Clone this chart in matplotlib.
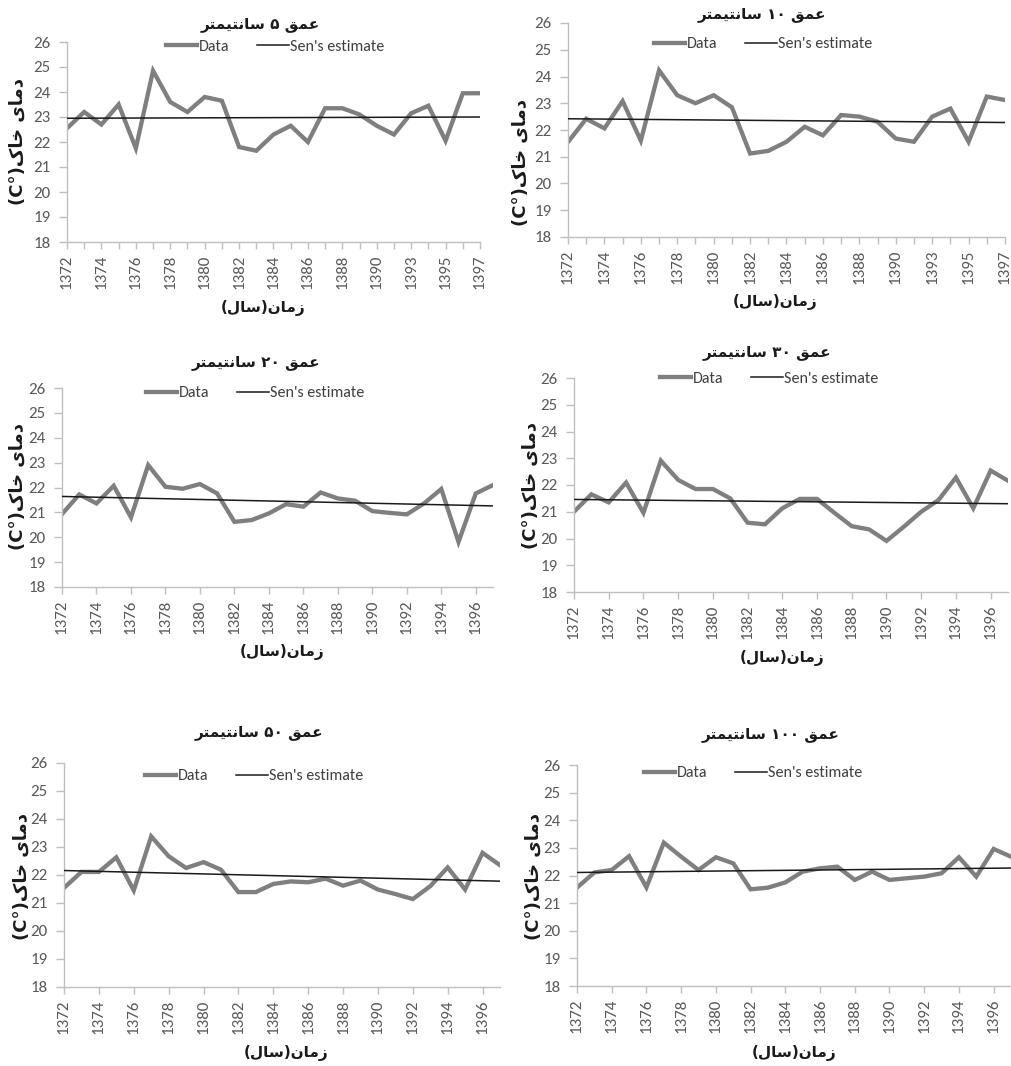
import matplotlib
matplotlib.use("Agg")
import matplotlib.pyplot as plt
from matplotlib import font_manager

# Données (température du sol, °C)
years_top = list(range(1372, 1391)) + [1392, 1393, 1394, 1395, 1396, 1397]
years_all = list(range(1372, 1398))

depths = ["5", "10", "20", "30", "50", "100"]

t_5 = [22.55, 23.2, 22.7, 23.5, 21.75, 24.85, 23.6, 23.2, 23.8, 23.65, 21.8, 21.65, 22.3,
       22.65, 22.0, 23.35, 23.35, 23.1, 22.65, 22.3, 23.15, 23.45, 22.05, 23.95, 23.95]
t_10 = [21.55, 22.42, 22.06, 23.08, 21.6, 24.23, 23.3, 23.0, 23.3, 22.85, 21.12, 21.22, 21.56,
        22.12, 21.8, 22.56, 22.5, 22.31, 21.68, 21.56, 22.5, 22.8, 21.56, 23.25, 23.12]
t_20 = [20.93, 21.72, 21.36, 22.07, 20.8, 22.9, 22.03, 21.95, 22.14, 21.76, 20.62, 20.69, 20.96,
        21.33, 21.23, 21.8, 21.56, 21.47, 21.05, 20.98, 20.92, 21.36, 21.94, 19.81, 21.76, 22.1]
t_30 = [21.0, 21.65, 21.35, 22.09, 20.96, 22.91, 22.19, 21.85, 21.85, 21.5, 20.59, 20.53, 21.13,
        21.48, 21.48, 20.96, 20.46, 20.34, 19.91, 20.44, 21.0, 21.44, 22.28, 21.13, 22.54, 22.16]
t_50 = [21.54, 22.11, 22.11, 22.63, 21.45, 23.38, 22.67, 22.25, 22.46, 22.19, 21.39, 21.39, 21.68,
        21.77, 21.74, 21.87, 21.62, 21.8, 21.48, 21.32, 21.14, 21.6, 22.27, 21.48, 22.79, 22.35]
t_100 = [21.56, 22.11, 22.2, 22.7, 21.57, 23.19, 22.68, 22.2, 22.66, 22.44, 21.5, 21.56, 21.75,
         22.14, 22.26, 22.32, 21.84, 22.14, 21.84, 21.9, 21.96, 22.08, 22.66, 21.96, 22.96, 22.68]

# estimation de Sen : valeur au début et à la fin
sen_5 = [22.95, 23.0]
sen_10 = [22.42, 22.28]
sen_20 = [21.64, 21.26]
sen_30 = [21.46, 21.3]
sen_50 = [22.16, 21.78]
sen_100 = [22.11, 22.27]

series = [t_5, t_10, t_20, t_30, t_50, t_100]
sens = [sen_5, sen_10, sen_20, sen_30, sen_50, sen_100]
years = [years_top, years_top, years_all, years_all, years_all, years_all]

# mise en page (pixels de l'image 1012x1066)
W, H = 1012, 1066
ax_px = [(67, 42, 480, 242), (568, 23, 1005, 237), (62, 388, 493, 587),
         (574, 378, 1008, 592), (64, 763, 500, 987), (577, 765, 1011, 986)]
legend_px = [(275, 47), (763, 44), (255, 393), (769, 379), (254, 776), (753, 773)]
title_px = [(260, 25), (762, 15), (256, 363), (767, 352), (259, 733), (771, 735)]
xlabel_px = [(263, 308), (775, 302), (282, 652), (782, 658), (286, 1053), (794, 1053)]
ylabel_px = [(18, 141), (521, 162), (18, 487), (531, 485), (22, 877), (534, 877)]
minor_every = [True, True, False, False, False, False]

names = {f.name for f in font_manager.fontManager.ttflist}
latin = next((n for n in ["Carlito", "Lato", "Liberation Sans Narrow"] if n in names), "DejaVu Sans")
persian = "DejaVu Sans"

# formes contextuelles arabes (isolée, finale, initiale, médiane)
FORMS = {
    "ا": ("\uFE8D", "\uFE8E", None, None),
    "د": ("\uFEA9", "\uFEAA", None, None),
    "ر": ("\uFEAD", "\uFEAE", None, None),
    "ز": ("\uFEAF", "\uFEB0", None, None),
    "خ": ("\uFEA5", "\uFEA6", "\uFEA7", "\uFEA8"),
    "س": ("\uFEB1", "\uFEB2", "\uFEB3", "\uFEB4"),
    "ع": ("\uFEC9", "\uFECA", "\uFECB", "\uFECC"),
    "ق": ("\uFED5", "\uFED6", "\uFED7", "\uFED8"),
    "ل": ("\uFEDD", "\uFEDE", "\uFEDF", "\uFEE0"),
    "م": ("\uFEE1", "\uFEE2", "\uFEE3", "\uFEE4"),
    "ن": ("\uFEE5", "\uFEE6", "\uFEE7", "\uFEE8"),
    "ت": ("\uFE95", "\uFE96", "\uFE97", "\uFE98"),
    "ی": ("\uFEEF", "\uFEF0", "\uFEF3", "\uFEF4"),
    "ک": ("\uFB8E", "\uFB8F", "\uFB90", "\uFB91"),
}


def shape(word):
    out = []
    for i, ch in enumerate(word):
        f = FORMS[ch]
        prev = word[i - 1] if i > 0 else None
        nxt = word[i + 1] if i + 1 < len(word) else None
        jp = prev is not None and FORMS[prev][2] is not None
        jn = nxt is not None and f[2] is not None
        if jp and jn:
            out.append(f[3])
        elif jp:
            out.append(f[1])
        elif jn:
            out.append(f[2])
        else:
            out.append(f[0])
    return "".join(reversed(out))


fa_digits = str.maketrans("0123456789", "۰۱۲۳۴۵۶۷۸۹")
ylabel = "(C°)" + shape("خاک") + " " + shape("دمای")
xlabel = "(" + shape("سال") + ")" + shape("زمان")

DATA_C = "#7f7f7f"
SEN_C = "#1a1a1a"
AXIS_C = "#bfbfbf"
TICK_C = "#595959"

fig = plt.figure(figsize=(W / 100, H / 100), dpi=100)


def fxy(x, y):
    return x / W, 1 - y / H


for i in range(6):
    l, t, r, b = ax_px[i]
    ax = fig.add_axes([l / W, 1 - b / H, (r - l) / W, (b - t) / H])
    vals = series[i]
    n = len(vals)
    xs = list(range(n))
    ax.plot(xs, vals, color=DATA_C, lw=3.1, solid_joinstyle="miter", label="Data", zorder=2)
    ax.plot([0, n - 1], sens[i], color=SEN_C, lw=1.1, label="Sen's estimate", zorder=3)
    ax.set_xlim(0, n - 1)
    ax.set_ylim(18, 26)
    ax.set_yticks(range(18, 27))
    major = list(range(0, n, 2))
    ax.set_xticks(major)
    ax.set_xticklabels([str(years[i][k]) for k in major], rotation=90)
    if minor_every[i]:
        ax.set_xticks(list(range(1, n, 2)), minor=True)
    for s in ["top", "right"]:
        ax.spines[s].set_visible(False)
    for s in ["left", "bottom"]:
        ax.spines[s].set_color(AXIS_C)
        ax.spines[s].set_linewidth(1.0)
    ax.tick_params(axis="both", which="both", color=AXIS_C, length=5, width=1.0,
                   labelcolor=TICK_C, labelsize=12.2)
    ax.tick_params(axis="x", pad=4)
    ax.tick_params(axis="y", length=5.5, pad=6.5)
    for lab in ax.get_xticklabels() + ax.get_yticklabels():
        lab.set_fontfamily(latin)
    ax.patch.set_visible(False)

    lx, ly = fxy(*legend_px[i])
    leg = ax.legend(loc="center", bbox_to_anchor=(lx, ly), bbox_transform=fig.transFigure,
                    ncol=2, frameon=False, handlelength=2.0, handletextpad=0.1,
                    columnspacing=1.7, borderaxespad=0, prop={"family": latin, "size": 11.5})
    for txt in leg.get_texts():
        txt.set_color("#404040")

    title = shape("سانتیمتر") + " " + depths[i].translate(fa_digits) + " " + shape("عمق")
    tx, ty = fxy(*title_px[i])
    fig.text(tx, ty, title, ha="center", va="center", fontsize=11, fontweight="bold",
             family=persian, color="#1a1a1a")
    xx, xy = fxy(*xlabel_px[i])
    fig.text(xx, xy, xlabel, ha="center", va="center", fontsize=11, fontweight="bold",
             family=persian, color="#1a1a1a")
    yx, yy = fxy(*ylabel_px[i])
    fig.text(yx, yy, ylabel, ha="center", va="center", rotation=90, fontsize=13,
             fontweight="bold", family=persian, color="#1a1a1a")

fig.savefig("out.png", dpi=100)
